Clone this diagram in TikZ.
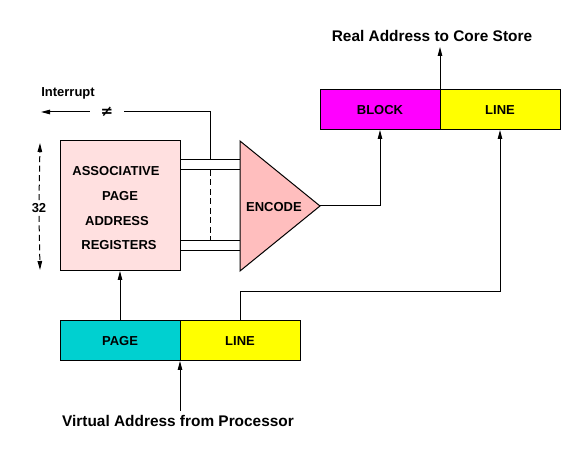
\documentclass[tikz,border=0pt]{standalone}
\usepackage{fontspec}
\setmainfont{Liberation Sans}
\newfontfamily\symfont{DejaVu Sans}
\usetikzlibrary{arrows.meta}
\definecolor{regpink}{RGB}{255,224,224}
\definecolor{encpink}{RGB}{255,190,190}
\definecolor{pagecyan}{RGB}{0,208,208}
\definecolor{blockmag}{RGB}{255,0,255}
\definecolor{lineyel}{RGB}{255,255,0}
\begin{document}
\begin{tikzpicture}[x=1pt,y=-1pt,
  wire/.style={line width=1pt},
  arr/.style={wire,-{Triangle[length=9pt,width=4.5pt]}},
  lbl/.style={font=\fontsize{13}{15}\selectfont\bfseries, inner sep=0pt, text height=9.3pt, text depth=0pt},
  big/.style={font=\fontsize{15.4}{18}\selectfont\bfseries, inner sep=0pt, text height=11pt, text depth=0pt},
  field/.style={draw, line width=1pt, minimum width=120pt, minimum height=40pt, inner sep=0pt, outer sep=0pt,
     font=\fontsize{13}{15}\selectfont\bfseries, text height=9.3pt, text depth=0pt},
  dsh/.style={dash pattern=on 6pt off 3.5pt}
]
\useasboundingbox (0,0) rectangle (582,462);

% associative registers
\node[draw, line width=1pt, fill=regpink, minimum width=120pt, minimum height=130pt, inner sep=0pt, outer sep=0pt] (assoc) at (120,206) {};
\node[lbl] (t1) at (116,171) {ASSOCIATIVE};
\node[lbl] (t2) at (120,196) {PAGE};
\node[lbl] (t3) at (117,221) {ADDRESS};
\node[lbl] (t4) at (119,245) {REGISTERS};

% encoder triangle
\coordinate (tritop) at (240,141);
\coordinate (tribot) at (240,271);
\coordinate (apex) at (320,206);
\filldraw[wire, fill=encpink] (tritop) -- (apex) -- (tribot) -- cycle;
\node[lbl] (enc) at (274,207) {ENCODE};

% bus lines
\draw[wire] (180,160) -- (240,160);
\draw[wire] (180,170) -- (240,170);
\draw[wire] (180,241) -- (240,241);
\draw[wire] (180,251) -- (240,251);
\draw[wire, dsh] (210,170) -- (210,241);

% real address fields
\node[field, fill=blockmag] (block) at (380,110) {BLOCK};
\node[field, fill=lineyel] (rline) at (500,110) {LINE};

% virtual address fields
\node[field, fill=pagecyan] (page) at (120,341) {PAGE};
\node[field, fill=lineyel] (pline) at (240,341) {LINE};

% labels
\node[big] (real) at (432,36) {Real Address to Core Store};
\node[big] (virt) at (178,421) {Virtual Address from Processor};
\node[lbl] (intr) at (68,92) {Interrupt};
\node[inner sep=0pt, minimum width=34pt, font=\fontsize{15}{17}\symfont\bfseries] (neq) at (107,112) {≠};
\node[lbl, fill=white, inner sep=3pt] (n32) at (39,208) {32};

% connectors
\coordinate (realtip) at (440,47);
\coordinate (virtsrc) at (180,411);
\coordinate (intrtip) at (41,112);
\draw[arr] (apex) -| (block.south);
\draw[arr] (block.north east) -- (realtip);
\draw[arr] (pline.north) |- (500,292) -- (rline.south);
\draw[arr] (page.north) -- (assoc.south);
\draw[arr] (virtsrc) -- (page.south east);
\draw[wire] (210,160) |- (neq.east);
\draw[arr] (neq.west) -- (intrtip);
\draw[arr, dsh] (n32.north) -- (40,143);
\draw[arr, dsh] (n32.south) -- (40,270);
\end{tikzpicture}
\end{document}
